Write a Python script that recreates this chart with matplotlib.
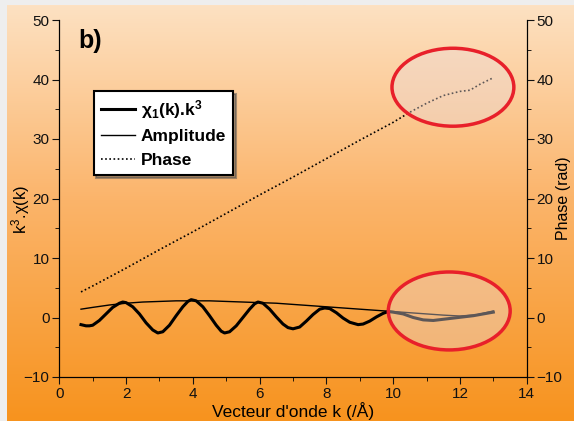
import numpy as np
import matplotlib
matplotlib.use("Agg")
import matplotlib.pyplot as plt
from matplotlib.patches import Ellipse
from matplotlib.colors import LinearSegmentedColormap

plt.rcParams['font.family'] = ['Liberation Sans', 'DejaVu Sans']
plt.rcParams['mathtext.default'] = 'regular'

# chi_1(k).k^3
k_chi = [0.65, 0.8, 0.9, 1.0, 1.2, 1.4, 1.6, 1.8, 1.9, 2.0, 2.2, 2.4, 2.6, 2.8, 2.95,
         3.1, 3.3, 3.5, 3.7, 3.85, 3.95, 4.1, 4.3, 4.5, 4.7, 4.85, 4.95, 5.1, 5.3, 5.5,
         5.7, 5.85, 5.95, 6.1, 6.3, 6.5, 6.7, 6.85, 7.0, 7.2, 7.4, 7.6, 7.8, 7.95,
         8.1, 8.3, 8.5, 8.7, 8.95, 9.1, 9.3, 9.5, 9.7, 9.85, 10.0, 10.3, 10.6, 10.9,
         11.2, 11.5, 11.8, 12.1, 12.4, 12.7, 13.0]
chi = [-1.2, -1.4, -1.4, -1.3, -0.5, 0.6, 1.7, 2.4, 2.6, 2.5, 1.8, 0.6, -0.9, -2.1, -2.6,
       -2.4, -1.3, 0.3, 1.8, 2.7, 3.0, 2.8, 1.8, 0.3, -1.3, -2.3, -2.6, -2.4, -1.4, 0.0,
       1.4, 2.3, 2.6, 2.4, 1.4, 0.1, -1.1, -1.7, -1.9, -1.6, -0.6, 0.5, 1.4, 1.6,
       1.5, 0.8, -0.1, -0.8, -1.2, -1.1, -0.6, 0.1, 0.7, 1.0, 0.9, 0.6, 0.0, -0.4,
       -0.5, -0.3, -0.1, 0.1, 0.3, 0.6, 0.9]

# amplitude
k_amp = [0.65, 1.0, 1.5, 2.0, 2.5, 3.0, 3.5, 4.0, 4.5, 5.0, 5.5, 6.0, 6.5, 7.0, 7.5,
         8.0, 8.5, 9.0, 9.5, 10.0, 10.5, 11.0, 11.5, 12.0, 12.5, 13.0]
amp = [1.4, 1.7, 2.1, 2.4, 2.6, 2.7, 2.8, 2.8, 2.8, 2.7, 2.6, 2.5, 2.4, 2.2, 2.0,
       1.8, 1.6, 1.4, 1.2, 1.0, 0.8, 0.6, 0.4, 0.25, 0.45, 1.1]

# phase (rad)
k_ph = [0.65, 1.0, 2.0, 3.0, 4.0, 5.0, 6.0, 7.0, 8.0, 9.0, 10.0, 10.5, 11.0, 11.5,
        12.0, 12.3, 12.6, 13.0]
phase = [4.3, 5.3, 8.3, 11.4, 14.4, 17.5, 20.6, 23.6, 26.7, 29.8, 32.8, 34.5, 36.0,
         37.3, 38.0, 38.2, 39.2, 40.3]

fig = plt.figure(figsize=(5.74, 4.21), dpi=100)
fig.patch.set_facecolor('#eeeeee')

# fond degrade
bg = fig.add_axes([7 / 574, 0, 1 - 7 / 574, 1 - 5 / 421])
cmap = LinearSegmentedColormap.from_list('fond', [(0, '#f7931e'), (0.53, '#fbb46a'), (1, '#fde1c2')])
bg.imshow(np.linspace(0, 1, 256).reshape(-1, 1), aspect='auto', cmap=cmap, origin='lower',
          extent=[0, 1, 0, 1])
bg.axis('off')

ax = fig.add_axes([59.3 / 574, 1 - 377 / 421, 467.4 / 574, 357 / 421])
ax.patch.set_alpha(0)
ax2 = ax.twinx()

l1, = ax.plot(k_chi, chi, color='black', lw=2.2)
l2, = ax.plot(k_amp, amp, color='black', lw=1.0)
l3, = ax2.plot(k_ph, phase, color='black', lw=1.2, linestyle=(0, (1, 1.5)))

for c in [(11.79, 38.7), (11.68, 1.1)]:
    ax2.add_patch(Ellipse(c, 3.65, 13.1, facecolor=(0.92, 0.86, 0.86, 0.4),
                          edgecolor='#e8202a', lw=2.5, zorder=5))

for a in (ax, ax2):
    a.set_xlim(0, 14)
    a.set_ylim(-10, 50)
    a.set_yticks(range(-10, 51, 10))
    a.set_yticks(range(-5, 50, 10), minor=True)
    a.spines['top'].set_visible(False)
    a.tick_params(which='major', direction='out', length=5, labelsize=11, colors='#111111', pad=2)
    a.tick_params(which='minor', direction='out', length=3)
ax.set_xticks(range(0, 15, 2))
ax.set_xticks(range(1, 14, 2), minor=True)

ax.set_xlabel("Vecteur d'onde k (/Å)", fontsize=12.5, labelpad=1)
ax.set_ylabel("k$^3$.χ(k)", fontsize=12, va='center', ha='center')
ax.yaxis.set_label_coords(-0.082, 0.47)
ax2.set_ylabel("Phase (rad)", fontsize=11.5, rotation=90, va='center', ha='center')
ax2.yaxis.set_label_coords(1.078, 0.5)

ax.text(0.04, 0.94, "b)", transform=ax.transAxes, fontsize=18, fontweight='bold',
        va='center', ha='left')

leg = ax2.legend([l1, l2, l3], ["χ$_1$(k).k$^3$", "Amplitude", "Phase"],
                 loc='upper left', bbox_to_anchor=(0.055, 0.826), fancybox=False,
                 shadow=True, edgecolor='black', framealpha=1, handlelength=2.0,
                 handletextpad=0.3, prop={'weight': 'bold', 'size': 12.5},
                 borderpad=0.4, labelspacing=0.5)
leg.get_frame().set_linewidth(1.5)

fig.savefig('out.png', dpi=100)
